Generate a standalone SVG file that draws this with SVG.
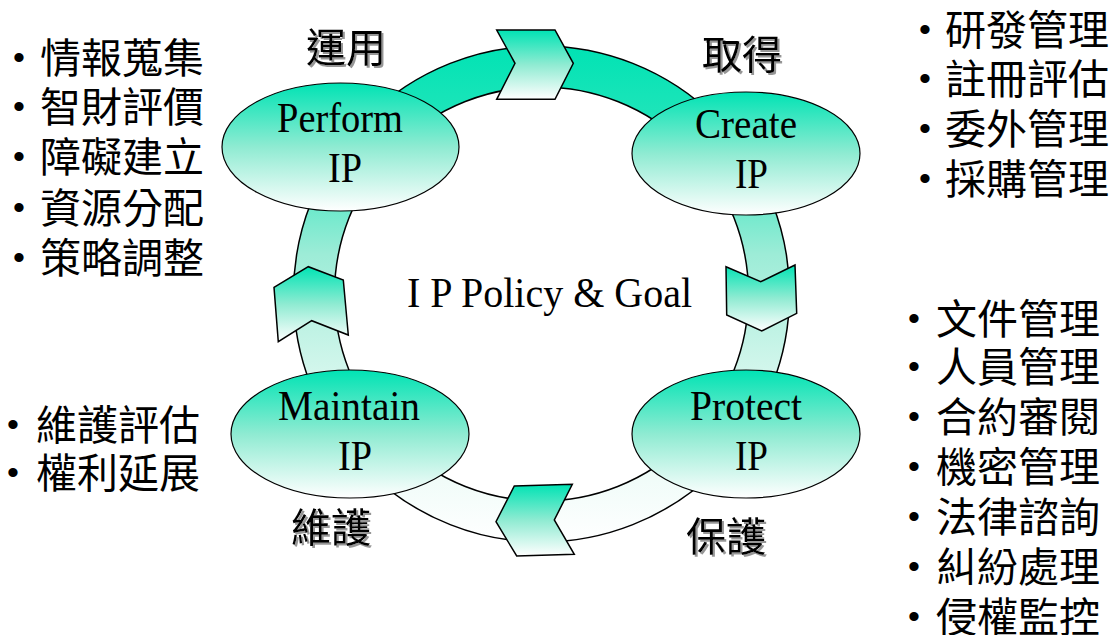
<svg xmlns="http://www.w3.org/2000/svg" width="1119" height="635" viewBox="0 0 1119 635">
<defs>
  <linearGradient id="gRing" gradientUnits="userSpaceOnUse" x1="0" y1="46" x2="0" y2="542">
    <stop offset="0" stop-color="#00E3B4"/>
    <stop offset="0.2" stop-color="#2BE5BC"/>
    <stop offset="0.42" stop-color="#9DECD7"/>
    <stop offset="0.7" stop-color="#DDF8F0"/>
    <stop offset="1" stop-color="#FFFFFF"/>
  </linearGradient>
  <linearGradient id="gNode" x1="0" y1="0" x2="0" y2="1">
    <stop offset="0" stop-color="#00E3B4"/>
    <stop offset="0.5" stop-color="#8FEBD2"/>
    <stop offset="1" stop-color="#FFFFFF"/>
  </linearGradient>
  <filter id="shadow" x="-10%" y="-10%" width="130%" height="130%">
    <feDropShadow dx="2" dy="2" stdDeviation="0.6" flood-color="#8a8a8a" flood-opacity="0.9"/>
  </filter>
  <style>
    .ring{fill:url(#gRing);stroke:#000;stroke-width:1.5;fill-rule:evenodd}
    .chev{fill:url(#gNode);stroke:#000;stroke-width:1.5;stroke-linejoin:miter}
    .node{fill:url(#gNode);stroke:#000;stroke-width:1.2}
    .en{font-family:"Liberation Serif","Times New Roman",serif;font-size:43px;fill:#000;text-anchor:middle}
    .zh{font-family:"Noto Sans CJK TC","Noto Sans CJK SC",sans-serif;font-size:41px;fill:#000}
    .lbl{font-family:"Noto Sans CJK TC","Noto Sans CJK SC",sans-serif;font-size:40px;fill:#000;text-anchor:middle;filter:url(#shadow)}
    .bul{font-family:"Liberation Sans",Arial,sans-serif;font-size:34px;fill:#000;text-anchor:middle}
  </style>
</defs>
<rect width="1119" height="635" fill="#FFFFFF"/>

<g id="connectors">
  <path class="ring" d="M293.5,294 A248,248 0 1,0 789.5,294 A248,248 0 1,0 293.5,294 Z M334.5,294 A207,207 0 1,0 748.5,294 A207,207 0 1,0 334.5,294 Z"/>
  <polygon class="chev" points="496.7,30 555,30 573.3,63.3 555,99.3 496.7,99.3 515,63.3"/>
  <polygon class="chev" points="726,266.7 760.7,281.7 795,265 796.7,313.3 761.7,331 726.7,315"/>
  <polygon class="chev" points="514.3,486 572.3,484.3 554.3,520 574.3,554.3 516.7,556 496,521.7"/>
  <polygon class="chev" points="274,287.3 308.3,266.7 343.3,280 348.3,335 311.7,320.7 278.3,341.7"/>
</g>

<g id="perform-ip">
  <ellipse class="node" cx="340.5" cy="147" rx="118.5" ry="64"/>
  <text class="en" x="340" y="132" textLength="126" lengthAdjust="spacingAndGlyphs">Perform</text>
  <text class="en" x="345" y="182" textLength="34" lengthAdjust="spacingAndGlyphs">IP</text>
</g>
<g id="create-ip">
  <ellipse class="node" cx="746" cy="153.5" rx="114" ry="61.5"/>
  <text class="en" x="746" y="138" textLength="102" lengthAdjust="spacingAndGlyphs">Create</text>
  <text class="en" x="751.5" y="188" textLength="33" lengthAdjust="spacingAndGlyphs">IP</text>
</g>
<g id="maintain-ip">
  <ellipse class="node" cx="350" cy="434" rx="119" ry="64"/>
  <text class="en" x="349" y="420" textLength="142" lengthAdjust="spacingAndGlyphs">Maintain</text>
  <text class="en" x="355" y="470" textLength="34" lengthAdjust="spacingAndGlyphs">IP</text>
</g>
<g id="protect-ip">
  <ellipse class="node" cx="746" cy="434" rx="114" ry="64"/>
  <text class="en" x="746" y="420" textLength="112" lengthAdjust="spacingAndGlyphs">Protect</text>
  <text class="en" x="751.5" y="470" textLength="33" lengthAdjust="spacingAndGlyphs">IP</text>
</g>

<g id="center-label">
  <text class="en" x="549.5" y="307" textLength="285" lengthAdjust="spacingAndGlyphs">I P Policy &amp; Goal</text>
</g>

<g id="stage-labels">
  <text class="lbl" x="346" y="61.5">運用</text>
  <text class="lbl" x="742" y="68.5">取得</text>
  <text class="lbl" x="331" y="542">維護</text>
  <text class="lbl" x="726" y="551">保護</text>
</g>

<g id="list-perform">
  <text class="bul"><tspan x="19" y="69">•</tspan><tspan x="19" y="118">•</tspan><tspan x="19" y="168">•</tspan><tspan x="19" y="219">•</tspan><tspan x="19" y="269">•</tspan></text>
  <text class="zh"><tspan x="40" y="72.5">情報蒐集</tspan><tspan x="40" y="121.5">智財評價</tspan><tspan x="40" y="171.5">障礙建立</tspan><tspan x="40" y="222.5">資源分配</tspan><tspan x="40" y="272.5">策略調整</tspan></text>
</g>

<g id="list-create">
  <text class="bul"><tspan x="925" y="41">•</tspan><tspan x="925" y="90">•</tspan><tspan x="925" y="140">•</tspan><tspan x="925" y="190">•</tspan></text>
  <text class="zh"><tspan x="945" y="44.5">研發管理</tspan><tspan x="945" y="93.5">註冊評估</tspan><tspan x="945" y="143.5">委外管理</tspan><tspan x="945" y="193.5">採購管理</tspan></text>
</g>

<g id="list-protect">
  <text class="bul"><tspan x="914" y="330">•</tspan><tspan x="914" y="378">•</tspan><tspan x="914" y="428">•</tspan><tspan x="914" y="478">•</tspan><tspan x="914" y="528">•</tspan><tspan x="914" y="578">•</tspan><tspan x="914" y="628">•</tspan></text>
  <text class="zh"><tspan x="936" y="333.5">文件管理</tspan><tspan x="936" y="381.5">人員管理</tspan><tspan x="936" y="431.5">合約審閱</tspan><tspan x="936" y="481.5">機密管理</tspan><tspan x="936" y="531.5">法律諮詢</tspan><tspan x="936" y="581.5">糾紛處理</tspan><tspan x="936" y="631.5">侵權監控</tspan></text>
</g>

<g id="list-maintain">
  <text class="bul"><tspan x="13" y="436">•</tspan><tspan x="13" y="484">•</tspan></text>
  <text class="zh"><tspan x="36" y="439.5">維護評估</tspan><tspan x="36" y="487.5">權利延展</tspan></text>
</g>
</svg>
